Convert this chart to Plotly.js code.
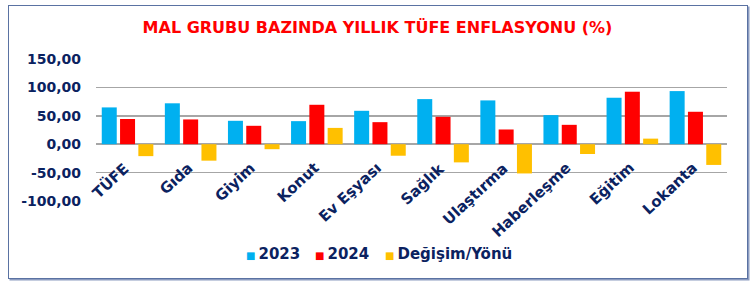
<!DOCTYPE html>
<html>
<head>
<meta charset="utf-8">
<script src="https://cdn.plot.ly/plotly-3.0.1.min.js"></script>
<style>
  html, body { margin: 0; padding: 0; background: #ffffff; }
  #wrap { position: relative; width: 755px; height: 283px; overflow: hidden; }
  #chart { position: absolute; left: 0; top: 0; width: 755px; height: 283px; }
  #frame { position: absolute; left: 8px; top: 5px; width: 738px; height: 272px;
           border: 1.5px solid #5a72a2; box-shadow: 1.5px 1.5px 0 #8c9cc0; pointer-events: none; }
</style>
</head>
<body>
<div id="wrap">
  <div id="chart"></div>
  <div id="frame"></div>
</div>
<script>
const categories = ["TÜFE", "Gıda", "Giyim", "Konut", "Ev Eşyası", "Sağlık", "Ulaştırma", "Haberleşme", "Eğitim", "Lokanta"];
const values2023 = [64.77, 72.0, 41.2, 40.6, 58.8, 79.4, 77.1, 51.2, 81.8, 93.5];
const values2024 = [44.38, 43.6, 32.4, 69.4, 38.8, 48.2, 25.9, 34.1, 92.4, 57.1];
const valuesChange = [-21.0, -29.0, -8.8, 28.7, -20.3, -32.0, -51.5, -17.3, 9.8, -36.5];
const seriesNames = ["2023", "2024", "Değişim/Yönü"];
const seriesColors = ["#00b0f0", "#ff0000", "#ffc000"];
const tickVals = [-100, -50, 0, 50, 100, 150];
const tickText = ["-100,00", "-50,00", "0,00", "50,00", "100,00", "150,00"];

const navy = "#0b2260";
const fontFam = "DejaVu Sans, Arial, sans-serif";

const seriesValues = [values2023, values2024, valuesChange];
const traces = seriesValues.map((vals, i) => ({
  type: "bar", name: seriesNames[i], x: categories, y: vals,
  marker: { color: seriesColors[i] }, showlegend: false
}));

// plot area in px
const L = 96, W = 631, T = 59, B = 82, H = 283 - T - B;
const annotations = categories.map(c => ({
  x: c, y: 0, xref: "x", yref: "y",
  text: "<b>" + c + "</b>", showarrow: false,
  textangle: -43, xanchor: "right", yanchor: "top",
  xshift: 8, yshift: -12,
  font: { family: fontFam, size: 15, color: navy }
}));

// legend drawn as text items
const legendLeftPx = [244, 313, 383];
seriesNames.forEach((n, i) => {
  annotations.push({
    x: (legendLeftPx[i] - L) / W, xref: "paper", xanchor: "left",
    y: (283 - B - 254) / H, yref: "paper", yanchor: "middle",
    showarrow: false,
    text: "<span style='color:" + seriesColors[i] + ";font-size:10px'>■</span>\u2009<b>" + n + "</b>",
    font: { family: fontFam, size: 15, color: navy }
  });
});

const layout = {
  width: 755, height: 283,
  margin: { l: L, r: 755 - L - W, t: T, b: B },
  paper_bgcolor: "rgba(0,0,0,0)",
  plot_bgcolor: "rgba(0,0,0,0)",
  title: {
    text: "<b>MAL GRUBU BAZINDA YILLIK TÜFE ENFLASYONU (%)</b>",
    font: { family: fontFam, size: 16, color: "#ff0000" },
    x: 0.5, xref: "container", xanchor: "center",
    y: 1 - 27.5 / 283, yref: "container", yanchor: "middle"
  },
  barmode: "group",
  bargap: 0.13,
  bargroupgap: 0.18,
  showlegend: false,
  xaxis: {
    range: [-0.5, categories.length - 0.5], automargin: false,
    showticklabels: false, showgrid: false, zeroline: false, showline: false, ticks: ""
  },
  yaxis: {
    range: [-100, 150], tickvals: tickVals, ticktext: tickText, automargin: false,
    showgrid: true, gridcolor: "#a6a6a6", gridwidth: 1.5,
    zeroline: true, zerolinecolor: "#a6a6a6", zerolinewidth: 1.5,
    showline: false, ticks: "", ticklabelstandoff: 14,
    tickfont: { family: fontFam, size: 14, color: navy, weight: "bold" }
  },
  annotations: annotations
};

Plotly.newPlot("chart", traces, layout, { displayModeBar: false, staticPlot: true });
</script>
</body>
</html>
